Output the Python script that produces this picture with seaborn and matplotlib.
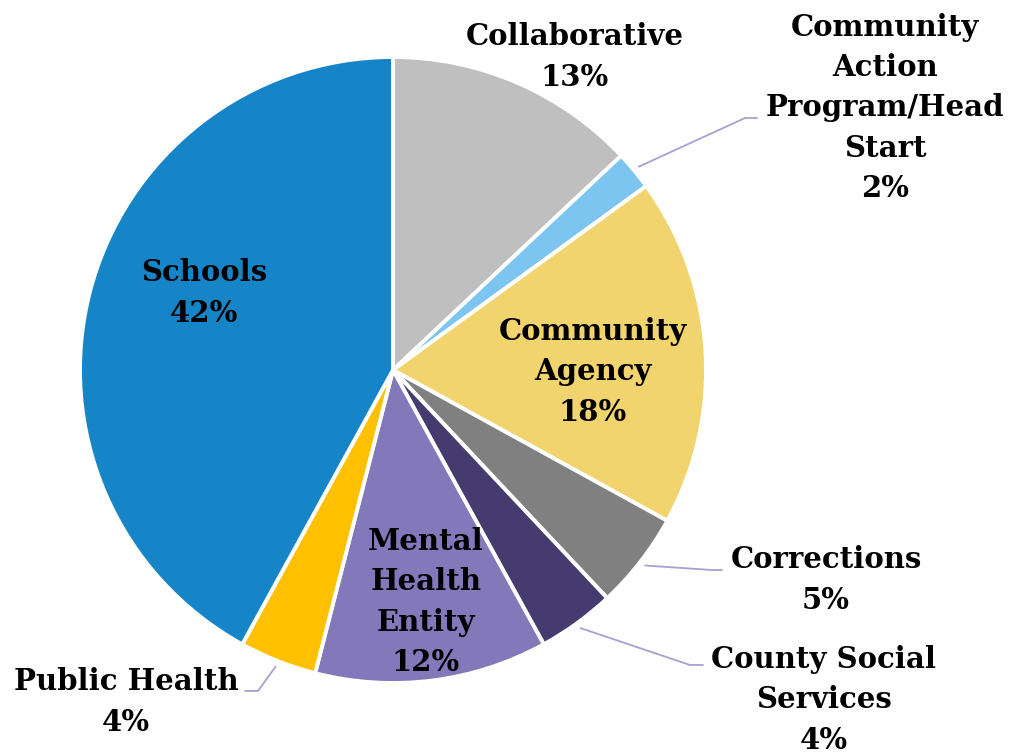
import numpy as np
import matplotlib
matplotlib.use("Agg")
import matplotlib.pyplot as plt
import seaborn as sns

categories = ["Collaborative", "Community\nAction\nProgram/Head\nStart", "Community\nAgency",
              "Corrections", "County Social\nServices", "Mental\nHealth\nEntity",
              "Public Health", "Schools"]
shares = [13, 2, 18, 5, 4, 12, 4, 42]
colors = ["#BFBFBF", "#7DC5F1", "#F2D46E", "#808080", "#463B6E", "#8379BA", "#FFC000", "#1585C8"]

# label centres in figure pixels (x, y from top)
label_pos = [(575, 57), (885, 108), (593, 372), (826, 580), (824, 700),
             (426, 602), (126, 702), (204, 293)]
# leader lines for the outside labels: index -> (elbow, end) in figure pixels
leaders = {1: ((745, 118), (757, 118)),
           3: ((712, 570), (722, 570)),
           4: ((690, 665), (703, 665)),
           6: ((258, 691), (245, 691))}

sns.set_theme(style="white")
plt.rcParams["font.family"] = ["DejaVu Serif"]

W, H = 1015, 754
fig = plt.figure(figsize=(W / 100, H / 100), dpi=100)
ax = fig.add_axes([0, 0, 1, 1])

cx, cy, R = 393, H - 370, 313
wedges, _ = ax.pie(shares, colors=colors, startangle=90, counterclock=False,
                   radius=R, center=(cx, cy),
                   wedgeprops=dict(edgecolor="white", linewidth=2.8))
ax.set_xlim(0, W)
ax.set_ylim(0, H)
ax.set_aspect("equal")
ax.axis("off")

for i, (cat, val) in enumerate(zip(categories, shares)):
    x, y = label_pos[i]
    ax.text(x, H - y, f"{cat}\n{val}%", ha="center", va="center",
            fontsize=21, fontweight="bold", color="black", linespacing=1.48)
    if i in leaders:
        w = wedges[i]
        mid = np.deg2rad((w.theta1 + w.theta2) / 2)
        sx, sy = cx + (R + 6) * np.cos(mid), cy + (R + 6) * np.sin(mid)
        (ex, ey), (fx, fy) = leaders[i]
        ax.plot([sx, ex, fx], [sy, H - ey, H - fy], color="#A99FD0", lw=1.3)

fig.savefig("out.png", dpi=100)
